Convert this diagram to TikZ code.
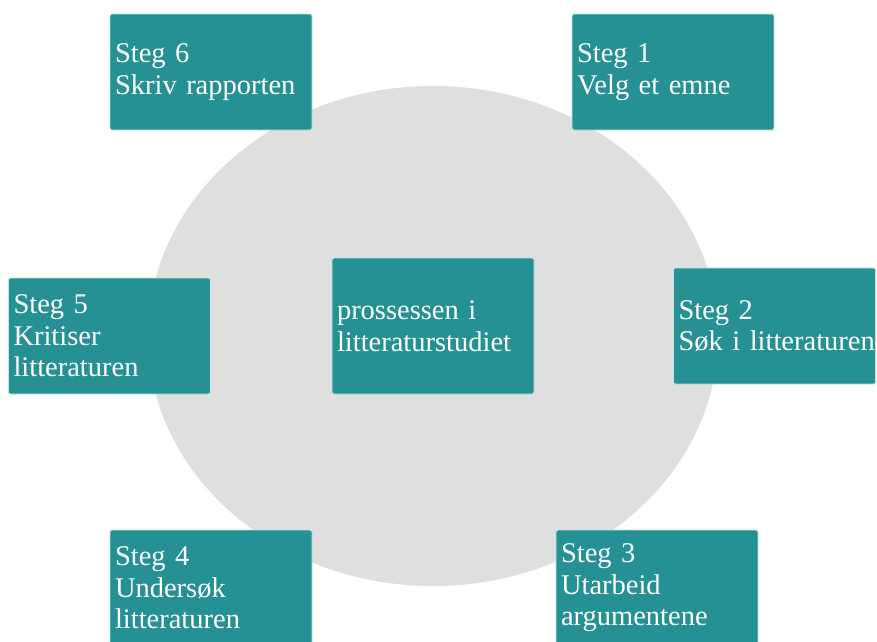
\documentclass[tikz,border=0pt]{standalone}
\usepackage{fontspec}
\setmainfont{Liberation Serif}
\definecolor{boxc}{RGB}{37,145,149}
\definecolor{ellc}{RGB}{223,223,223}
\newcommand{\nbl}[1]{\mbox{#1}}
\newcommand{\stepfont}{\fontsize{28.5}{31.5}\selectfont\spaceskip=4.5pt\relax}
\begin{document}
\begin{tikzpicture}[x=1pt,y=-1pt,
  stepbox/.style={fill=boxc, draw=white!75!boxc, line width=0.8pt, rounded corners=2pt,
    minimum width=202pt, minimum height=116pt, text width=192pt, inner xsep=5pt, inner ysep=0pt,
    align=left, text=white, font=\stepfont}]
\useasboundingbox (0,0) rectangle (877,641);
\fill[ellc] (433,336) ellipse [x radius=285, y radius=250];
\node[stepbox] (s6) at (211,72) {\nbl{Steg 6}\\\nbl{Skriv rapporten}};
\node[stepbox] (s1) at (673,72) {\nbl{Steg 1}\\\nbl{Velg et emne}};
\node[stepbox] (s2) at (774.5,326) {\nbl{Steg 2}\\\nbl{Søk i litteraturen}};
\node[stepbox] (s3) at (657,588) {\nbl{Steg 3}\\\nbl{Utarbeid}\\\nbl{argumentene}};
\node[stepbox] (s4) at (211,588) {\nbl{Steg 4}\\\nbl{Undersøk}\\\nbl{litteraturen}};
\node[stepbox] (s5) at (109.5,336) {\nbl{Steg 5}\\\nbl{Kritiser}\\\nbl{litteraturen}};
\node[stepbox, minimum height=136pt] (c) at (433,326) {\nbl{prossessen i}\\\nbl{litteraturstudiet}};
\end{tikzpicture}
\end{document}
